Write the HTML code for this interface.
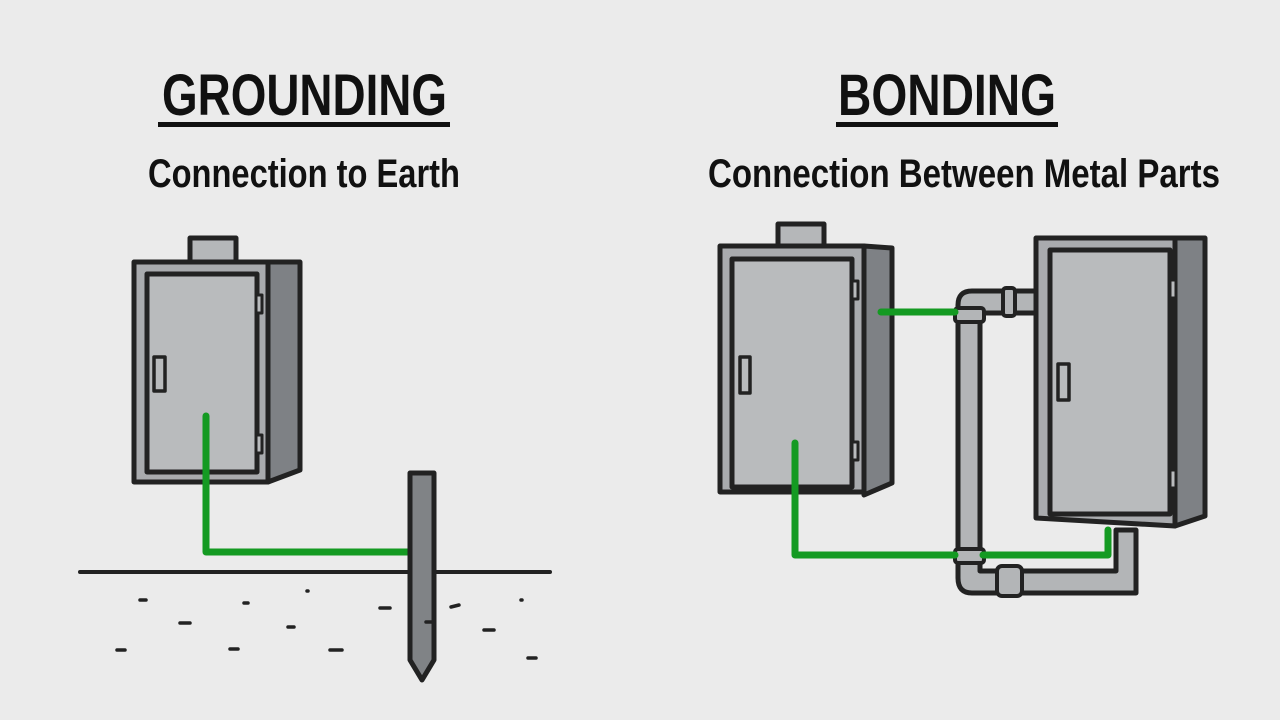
<!DOCTYPE html>
<html><head><meta charset="utf-8"><style>html,body{margin:0;padding:0;background:#ebebeb;}svg{display:block}</style></head>
<body>
<svg width="1280" height="720" viewBox="0 0 1280 720" xmlns="http://www.w3.org/2000/svg">
<rect width="1280" height="720" fill="#ebebeb"/>
<g font-family="'Liberation Sans Narrow','Liberation Sans',sans-serif" font-weight="bold" fill="#111">
<text x="162" y="115" font-size="58" textLength="285" lengthAdjust="spacingAndGlyphs">GROUNDING</text>
<text x="148" y="187" font-size="40" textLength="312" lengthAdjust="spacingAndGlyphs">Connection to Earth</text>
<text x="838" y="115" font-size="58" textLength="218" lengthAdjust="spacingAndGlyphs">BONDING</text>
<text x="708" y="187" font-size="40" textLength="512" lengthAdjust="spacingAndGlyphs">Connection Between Metal Parts</text>
</g>
<rect x="158" y="122" width="292" height="5" fill="#111"/>
<rect x="836" y="122" width="222" height="5" fill="#111"/>

<g stroke="#222" stroke-width="5" stroke-linejoin="round" stroke-linecap="round">
<rect x="190" y="238" width="46" height="26" fill="#b5b7b9"/>
<polygon points="268,262 300,262 300,470 268,482" fill="#7e8185"/>
<rect x="134" y="262" width="134" height="220" fill="#a9abae"/>
<rect x="147" y="274" width="110" height="198" fill="#b9bbbd"/>
<rect x="154" y="357" width="11" height="34" fill="#b9bbbd" stroke-width="3.5"/>
<rect x="256" y="295" width="6" height="18" fill="#b9bbbd" stroke-width="3"/>
<rect x="256" y="435" width="6" height="18" fill="#b9bbbd" stroke-width="3"/>
</g>
<path d="M206 416 V552 H410" fill="none" stroke="#149a22" stroke-width="7" stroke-linecap="round" stroke-linejoin="round"/>
<g stroke="#222" stroke-linecap="round" stroke-linejoin="round">
<line x1="80" y1="572" x2="550" y2="572" stroke-width="4"/>
<polygon points="410,473 434,473 434,660 422,680 410,660" fill="#808386" stroke-width="5"/>
<g stroke-width="3.5">
<path d="M140 600h6M244 603h4M307 591h1M380 608h10M426 622h8M180 623h10M288 627h6M117 650h8M230 649h8M330 650h12M451 607l8 -2M484 630h10M521 600h1M528 658h8"/>
</g>
</g>

<g stroke="#222" stroke-width="5" stroke-linejoin="round" stroke-linecap="round">
<rect x="778" y="224" width="46" height="24" fill="#b5b7b9"/>
<polygon points="864,246 892,248 892,483 864,495" fill="#7e8185"/>
<rect x="720" y="246" width="144" height="246" fill="#a9abae"/>
<rect x="732" y="259" width="120" height="228" fill="#b9bbbd"/>
<rect x="740" y="357" width="10" height="36" fill="#b9bbbd" stroke-width="3.5"/>
<rect x="852" y="281" width="6" height="18" fill="#b9bbbd" stroke-width="3"/>
<rect x="852" y="442" width="6" height="18" fill="#b9bbbd" stroke-width="3"/>

<path d="M958 575 V305 Q958 291 972 291 H1036 V313 H980 V575 Z" fill="#b3b5b7"/>
<rect x="955" y="308" width="29" height="14" rx="3" fill="#b3b5b7" stroke-width="4"/>
<rect x="1003" y="288" width="12" height="28" rx="3" fill="#b3b5b7" stroke-width="4"/>
<path d="M958 560 V578 Q958 593 972 593 H1136 V530 H1116 V571 H980 V560" fill="#b3b5b7"/>
<rect x="955" y="549" width="29" height="14" rx="3" fill="#b3b5b7" stroke-width="4"/>
<rect x="997" y="566" width="25" height="30" rx="5" fill="#b3b5b7" stroke-width="4"/>

<polygon points="1175,238 1205,238 1205,516 1175,526" fill="#7e8185"/>
<polygon points="1036,238 1175,238 1175,526 1036,518" fill="#a9abae"/>
<rect x="1050" y="250" width="120" height="264" fill="#b9bbbd"/>
<rect x="1058" y="364" width="11" height="36" fill="#b9bbbd" stroke-width="3.5"/>
<rect x="1170" y="280" width="6" height="18" fill="#b9bbbd" stroke-width="3"/>
<rect x="1170" y="470" width="6" height="18" fill="#b9bbbd" stroke-width="3"/>
</g>
<g fill="none" stroke="#149a22" stroke-width="7" stroke-linecap="round" stroke-linejoin="round">
<path d="M881 312 H955"/>
<path d="M795 443 V555 H955"/>
<path d="M983 555 H1108 V530"/>
</g>
</svg>
</body></html>
